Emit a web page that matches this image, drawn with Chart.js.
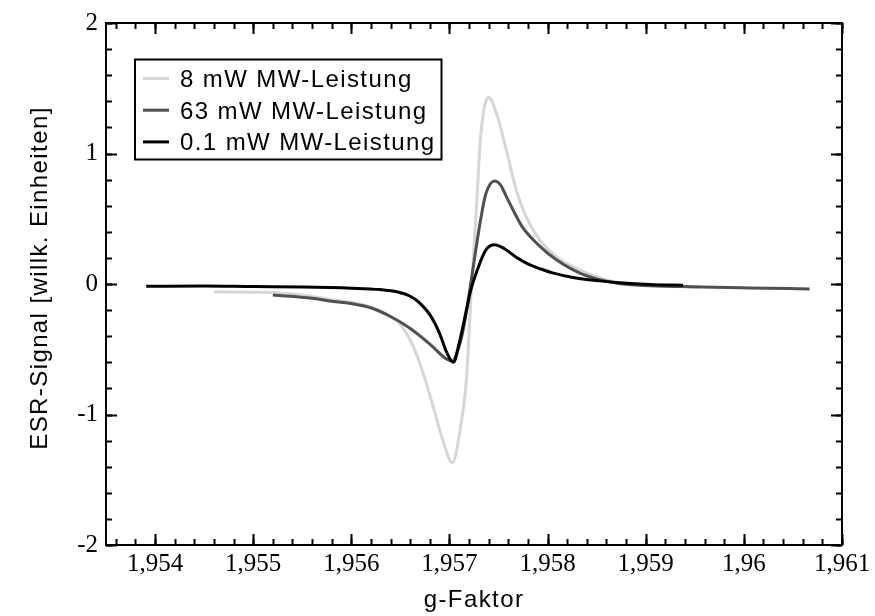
<!DOCTYPE html>
<html>
<head>
<meta charset="utf-8">
<script src="https://cdn.jsdelivr.net/npm/chart.js@4/dist/chart.umd.min.js"></script>
<style>
  html, body { margin: 0; padding: 0; background: #fff; }
  #wrap { width: 875px; height: 616px; }
</style>
</head>
<body>
<div id="wrap"><canvas id="graph" width="875" height="616"></canvas></div>
<script>
// Messreihen: g-Faktor und ESR-Signal je MW-Leistung
var seriesNames = ["8 mW MW-Leistung", "63 mW MW-Leistung", "0.1 mW MW-Leistung"];
var lineColors = ["#d6d6d6", "#505050", "#000000"];

var g8mW = [1.95460, 1.95500, 1.95527, 1.95560, 1.95578, 1.95600, 1.95619, 1.95636, 1.95649,
  1.95663, 1.95673, 1.95683, 1.95693, 1.95703, 1.95712, 1.95717, 1.95722, 1.95727, 1.95732,
  1.95740, 1.95749, 1.95758, 1.95768, 1.95778, 1.95792, 1.95809, 1.95832, 1.95866, 1.95900,
  1.95930, 1.95954];
var sig8mW = [-0.060, -0.063, -0.068, -0.095, -0.118, -0.140, -0.175, -0.235, -0.300,
  -0.476, -0.680, -0.930, -1.190, -1.370, -1.060, -0.760, -0.090, 0.520, 1.150,
  1.430, 1.280, 1.025, 0.720, 0.517, 0.338, 0.210, 0.110, 0.020, -0.010,
  -0.020, -0.025];

var g63mW = [1.95520, 1.95560, 1.95578, 1.95600, 1.95619, 1.95639, 1.95659, 1.95680, 1.95697,
  1.95703, 1.95708, 1.95714, 1.95722, 1.95731, 1.95737, 1.95746, 1.95752, 1.95758, 1.95766,
  1.95774, 1.95792, 1.95809, 1.95834, 1.95870, 1.95938, 1.96005, 1.96067];
var sig63mW = [-0.085, -0.110, -0.130, -0.150, -0.180, -0.245, -0.335, -0.460, -0.575,
  -0.590, -0.520, -0.350, 0.020, 0.460, 0.690, 0.790, 0.760, 0.670, 0.550,
  0.440, 0.290, 0.185, 0.080, 0.008, -0.020, -0.030, -0.038];

var g01mW = [1.95391, 1.95450, 1.95500, 1.95550, 1.95600, 1.95629, 1.95649, 1.95659, 1.95669,
  1.95680, 1.95690, 1.95697, 1.95704, 1.95710, 1.95717, 1.95722, 1.95728, 1.95737, 1.95746,
  1.95756, 1.95768, 1.95781, 1.95792, 1.95805, 1.95826, 1.95853, 1.95873, 1.95904, 1.95938];
var sig01mW = [-0.018, -0.015, -0.020, -0.023, -0.032, -0.043, -0.065, -0.090, -0.140,
  -0.235, -0.380, -0.520, -0.600, -0.450, -0.210, -0.040, 0.100, 0.260, 0.300,
  0.270, 0.205, 0.150, 0.118, 0.085, 0.050, 0.024, 0.010, -0.004, -0.010];

var xTicks = [1.954, 1.955, 1.956, 1.957, 1.958, 1.959, 1.96, 1.961];
var yTicks = [-2, -1, 0, 1, 2];
var xRange = [1.9535, 1.961];
var yRange = [-2, 2];
var xMinorStep = 0.0002;
var yMinorStep = 0.2;
var xTitle = "g-Faktor";
var yTitle = "ESR-Signal [willk. Einheiten]";

function toPoints(xs, ys) {
  return xs.map(function (x, i) { return { x: x, y: ys[i] }; });
}

var allX = [g8mW, g63mW, g01mW];
var allY = [sig8mW, sig63mW, sig01mW];

var datasets = seriesNames.map(function (name, i) {
  return {
    label: name,
    data: toPoints(allX[i], allY[i]),
    borderColor: lineColors[i],
    borderWidth: 3,
    pointRadius: 0,
    fill: false,
    cubicInterpolationMode: "monotone",
    borderJoinStyle: "round",
    order: 3 - i
  };
});

var sansFont = '"Liberation Sans", Arial, sans-serif';
var serifFont = '"Liberation Serif", "Times New Roman", serif';

function minorValues(min, max, step) {
  var out = [];
  var k = Math.ceil(min / step - 1e-6);
  while (k * step <= max + 1e-9) {
    out.push(Math.round(k * step * 1e6) / 1e6);
    k++;
  }
  return out;
}

// Rahmen, Ticks nach innen, Achsentitel und Legende
var framePlugin = {
  id: "frame",
  afterDraw: function (chart) {
    var ctx = chart.ctx;
    var a = chart.chartArea;
    var xs = chart.scales.x, ys = chart.scales.y;
    ctx.save();
    ctx.strokeStyle = "#000";
    ctx.lineWidth = 2;
    ctx.strokeRect(a.left, a.top, a.right - a.left, a.bottom - a.top);

    function xTick(v, len) {
      var px = Math.round(xs.getPixelForValue(v)) + 0.5;
      ctx.beginPath();
      ctx.moveTo(px, a.bottom); ctx.lineTo(px, a.bottom - len);
      ctx.moveTo(px, a.top); ctx.lineTo(px, a.top + len);
      ctx.stroke();
    }
    function yTick(v, len) {
      var py = Math.round(ys.getPixelForValue(v)) + 0.5;
      ctx.beginPath();
      ctx.moveTo(a.left, py); ctx.lineTo(a.left + len, py);
      ctx.moveTo(a.right, py); ctx.lineTo(a.right - len, py);
      ctx.stroke();
    }
    minorValues(xRange[0], xRange[1], xMinorStep).forEach(function (v) { xTick(v, 6); });
    xTicks.forEach(function (v) { xTick(v, 11); });
    minorValues(yRange[0], yRange[1], yMinorStep).forEach(function (v) { yTick(v, 6); });
    yTicks.forEach(function (v) { yTick(v, 11); });

    // Achsentitel
    ctx.fillStyle = "#000";
    ctx.font = "24px " + sansFont;
    ctx.letterSpacing = "1.4px";
    ctx.textAlign = "center";
    ctx.textBaseline = "alphabetic";
    ctx.fillText(xTitle, (a.left + a.right) / 2, 607);
    ctx.save();
    ctx.translate(47, (a.top + a.bottom) / 2 - 6);
    ctx.rotate(-Math.PI / 2);
    ctx.fillText(yTitle, 0, 0);
    ctx.restore();

    // Legende
    var bx = 135, by = 59.5, bw = 306.5, bh = 100;
    ctx.fillStyle = "#fff";
    ctx.fillRect(bx, by, bw, bh);
    ctx.strokeStyle = "#000";
    ctx.lineWidth = 2;
    ctx.strokeRect(bx, by, bw, bh);
    ctx.textAlign = "left";
    chart.data.datasets.forEach(function (ds, i) {
      var rowY = 78.5 + i * 31.7;
      ctx.strokeStyle = ds.borderColor;
      ctx.lineWidth = 3;
      ctx.beginPath();
      ctx.moveTo(143, rowY); ctx.lineTo(169, rowY);
      ctx.stroke();
      ctx.fillStyle = "#000";
      ctx.fillText(ds.label, 180, rowY + 8.5);
    });
    ctx.restore();
  }
};

new Chart("graph", {
  type: "line",
  data: { datasets: datasets },
  options: {
    responsive: false,
    animation: false,
    layout: { padding: { top: 19, right: 33, bottom: 0, left: 0 } },
    plugins: {
      legend: { display: false },
      tooltip: { enabled: false }
    },
    scales: {
      x: {
        type: "linear",
        min: xRange[0],
        max: xRange[1],
        grid: { display: false, drawTicks: false },
        border: { display: false },
        afterBuildTicks: function (scale) {
          scale.ticks = xTicks.map(function (v) { return { value: v }; });
        },
        afterFit: function (scale) { scale.height = 71; },
        ticks: {
          padding: 4,
          maxRotation: 0,
          color: "#000",
          font: { family: serifFont, size: 25 },
          callback: function (v) { return String(+v.toFixed(3)).replace(".", ","); }
        }
      },
      y: {
        type: "linear",
        min: yRange[0],
        max: yRange[1],
        grid: { display: false, drawTicks: false },
        border: { display: false },
        afterBuildTicks: function (scale) {
          scale.ticks = yTicks.map(function (v) { return { value: v }; });
        },
        afterFit: function (scale) { scale.width = 106; },
        ticks: {
          padding: 8,
          color: "#000",
          font: { family: serifFont, size: 25 },
          callback: function (v) { return String(v); }
        }
      }
    }
  },
  plugins: [framePlugin]
});
</script>
</body>
</html>
